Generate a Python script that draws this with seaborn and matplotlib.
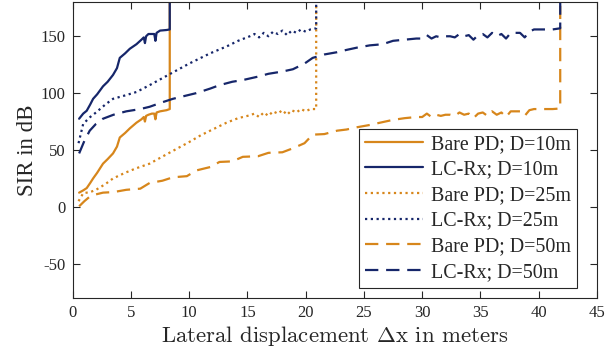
import pandas as pd
import seaborn as sns
import matplotlib.pyplot as plt

# lateral displacement (m) and SIR (dB)
x10 = [0.55, 0.9, 1.2, 1.5, 1.75, 2.1, 2.6, 3.0, 3.46, 3.8, 4.04, 4.5, 4.9, 5.47,
       5.9, 6.1, 6.2, 6.3, 6.5, 6.8, 7.0, 7.1, 7.2, 7.5, 8.05, 8.33, 8.33]
bare10 = [12.5, 14.5, 16.5, 21, 25, 30, 38, 42, 47, 53, 61, 65, 69, 74,
          77, 79, 75, 80, 81, 82, 82, 77, 83, 84, 85, 86, 400]
lc10 = [77.5, 82, 84.5, 90, 95, 99, 106, 110, 116, 122, 131, 135, 139, 143,
        147, 149, 144, 150, 152, 152, 152, 146, 153, 155, 155.5, 156, 400]

x25 = [0.5, 0.9, 1.5, 2.0, 2.8, 3.46, 4.5, 5.47, 6.6, 8.2, 10.0, 11.0, 11.8, 13.2,
       14.2, 15.2, 15.6, 16.0, 16.4, 16.8, 17.2, 17.6, 18.0, 18.4, 18.8, 19.2,
       19.6, 20.0, 20.4, 20.9, 20.9]
bare25 = [5, 12, 13, 15, 20, 25, 30, 34, 38, 47, 57, 63, 67, 74,
          78, 80.5, 82, 79, 83, 80, 84, 82, 85, 81, 85, 83, 86, 84, 86, 86, 400]
lc25 = [56, 73, 79, 83, 90, 95, 98, 101, 107, 116, 126, 131, 135, 141,
        146, 150, 152, 149, 153, 150, 154, 152, 155, 151, 155, 153, 156, 154, 156, 157, 400]

x50 = [0.55, 1.0, 1.46, 2.0, 2.6, 3.5, 4.6, 5.8, 6.6, 7.7, 8.6, 9.8, 10.6, 11.8,
       12.6, 13.7, 14.6, 15.9, 16.8, 18.0, 18.9, 19.9, 20.6, 21.6, 22.7, 23.5,
       24.4, 25.5, 26.6, 27.5, 28.5, 29.5, 30.0, 30.4, 30.8, 31.2, 31.6, 32.0,
       32.4, 32.8, 33.2, 33.6, 34.0, 34.4, 34.8, 35.2, 35.6, 36.0, 36.4, 36.8,
       37.2, 37.6, 38.0, 38.4, 38.8, 39.2, 39.6, 40.0, 41.2, 41.85, 41.85]
bare50 = [0.5, 5, 9, 11, 12.5, 13, 15, 16, 21, 23, 26, 27, 32, 35,
          39.5, 40, 44, 44.5, 47.5, 48, 51.5, 56, 63.5, 64, 67, 68,
          70, 72, 74.5, 76.5, 78, 79, 79, 82, 79, 81, 80, 81,
          81, 80, 83, 81, 82, 78, 82, 83, 80, 84, 81, 83,
          79, 84, 84, 84, 80, 85, 86, 86, 86, 86.5, 400]
lc50 = [47, 58, 67, 73, 77.5, 81, 84, 86, 88, 92, 95, 98, 100, 104,
        107, 110, 111.5, 114.5, 117, 119, 121, 126, 131, 134, 136, 138,
        140, 142, 143, 146, 147, 148, 148, 151, 148, 150, 149, 150,
        150, 149, 152, 150, 151, 147, 151, 152, 149, 153, 150, 152,
        148, 153, 153, 153, 149, 154, 156, 156, 156, 157, 400]

orange = '#D7861B'
navy = '#16266A'

sns.set_style('ticks')
plt.rcParams['font.family'] = ['Liberation Serif', 'DejaVu Serif']
plt.rcParams['mathtext.fontset'] = 'cm'
plt.rcParams['axes.unicode_minus'] = False

fig = plt.figure(figsize=(6.06, 3.58), dpi=100)
ax = fig.add_axes([0.120, 0.168, 0.865, 0.826])

series = [
    (x10, bare10, 'Bare PD; D=10m', orange, (None, None)),
    (x10, lc10, 'LC-Rx; D=10m', navy, (None, None)),
    (x25, bare25, 'Bare PD; D=25m', orange, (1, 1.6)),
    (x25, lc25, 'LC-Rx; D=25m', navy, (1, 1.6)),
    (x50, bare50, 'Bare PD; D=50m', orange, (6, 3.5)),
    (x50, lc50, 'LC-Rx; D=50m', navy, (6, 3.5)),
]

for xs, ys, label, color, dash in series:
    df = pd.DataFrame({'dx': xs, 'sir': ys})
    sns.lineplot(data=df, x='dx', y='sir', ax=ax, color=color, lw=1.6,
                 estimator=None, sort=False, label=label)
    if dash[0] is not None:
        ax.lines[-1].set_dashes(dash)

ax.set_xlim(0, 45)
ax.set_ylim(-80, 180)
ax.set_xticks(range(0, 46, 5))
ax.set_yticks([-50, 0, 50, 100, 150])
ax.tick_params(direction='in', top=True, right=True, length=5, width=0.8,
               labelsize=12, colors='#262626', pad=5)
for sp in ax.spines.values():
    sp.set_color('#262626')
    sp.set_linewidth(0.8)

ax.set_xlabel(r'Lateral displacement $\Delta$x in meters', fontsize=16.4,
              fontfamily='cmr10', color='#262626', labelpad=2)
ax.set_ylabel('SIR in dB', fontsize=16.5, color='#262626', labelpad=2)

leg = ax.legend(loc='lower right', bbox_to_anchor=(0.962, 0.034), fontsize=14.4,
                frameon=True, fancybox=False, framealpha=1, edgecolor='#262626',
                handlelength=2.9, handletextpad=0.4, labelspacing=0.33,
                borderpad=0.3, borderaxespad=0)
leg.get_frame().set_linewidth(0.8)

plt.savefig('out.png', dpi=100)
plt.close()
